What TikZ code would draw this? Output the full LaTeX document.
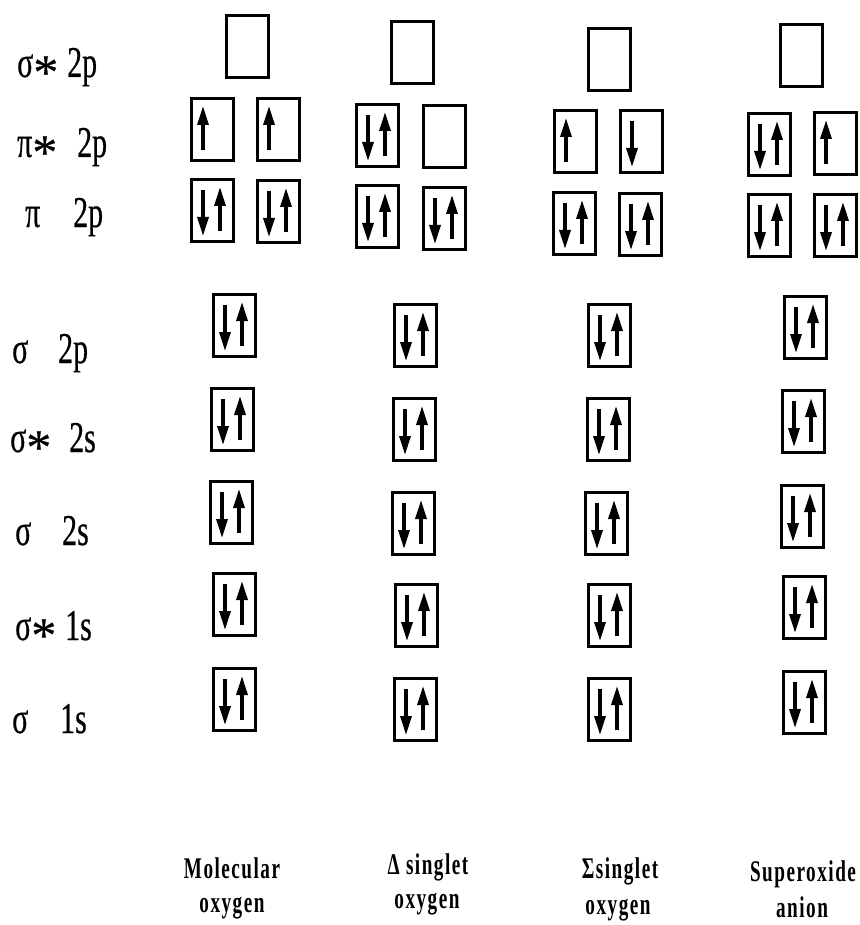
\documentclass[tikz,border=0pt]{standalone}
\usepackage{fontspec}
\setmainfont{Liberation Serif}
\newfontfamily\orbfont[FakeStretch=0.68,FakeBold=0.5]{Liberation Serif}
\newfontfamily\astfont[FakeBold=0.4]{Liberation Serif}
\newfontfamily\capfont[FakeStretch=0.64,LetterSpace=5]{Liberation Serif}
\usetikzlibrary{arrows.meta,calc}
\newcommand\st{\raisebox{-12pt}{\astfont\fontsize{50}{50}\selectfont *}}
\newcommand\ob[3]{\node[orb] (#1) at ({#2+22.5},{#3+32.5}) {};}
\newcommand\pairsp[1]{%
  \draw[spin] ($(#1.center)+(-9.5,-20.5)$) -- ($(#1.center)+(-9.5,25.5)$);
  \draw[spin] ($(#1.center)+(7.5,20.5)$) -- ($(#1.center)+(7.5,-23.5)$);}
\newcommand\oneup[1]{\draw[spin] ($(#1.center)+(-9.5,20.5)$) -- ($(#1.center)+(-9.5,-23.5)$);}
\newcommand\onedn[1]{\draw[spin] ($(#1.center)+(-9.5,-20.5)$) -- ($(#1.center)+(-9.5,25.5)$);}
\begin{document}
\begin{tikzpicture}[x=1pt,y=-1pt,
  orb/.style={draw, line width=3.2pt, minimum width=41.8pt, minimum height=61.8pt, inner sep=0pt},
  spin/.style={line width=3.4pt, -{Triangle[length=19pt,width=11pt]}},
  lab/.style={font=\orbfont\fontsize{44}{50}\selectfont, inner sep=0pt, anchor=base west},
  captext/.style={font=\capfont\bfseries\fontsize{30}{34}\selectfont, inner sep=0pt, anchor=base}]
\useasboundingbox (0,0) rectangle (859,925);

% orbital labels
\node[lab] (Lsp) at (17,77)  {\makebox[50pt][l]{σ\st}2p};
\node[lab] (Lpsp) at (17,157) {\makebox[60pt][l]{π\st}2p};
\node[lab] (Lpp) at (25,227) {\makebox[48pt][l]{π}2p};
\node[lab] (Lsp2) at (12,363) {\makebox[46pt][l]{σ}2p};
\node[lab] (Lss2) at (10,452) {\makebox[59pt][l]{σ\st}2s};
\node[lab] (Ls2) at (15,545) {\makebox[47pt][l]{σ}2s};
\node[lab] (Lss1) at (15,640) {\makebox[50pt][l]{σ\st}1s};
\node[lab] (Ls1) at (12,733) {\makebox[48pt][l]{σ}1s};

% column 1: molecular oxygen
\ob{a0}{225}{14}
\ob{a1}{190}{97}  \ob{a2}{256}{97}
\ob{a3}{190}{178} \ob{a4}{256}{179}
\oneup{a1} \oneup{a2}
\pairsp{a3} \pairsp{a4}
\ob{a5}{212}{293} \ob{a6}{210}{387} \ob{a7}{209}{480} \ob{a8}{212}{572} \ob{a9}{212}{667}
\pairsp{a5} \pairsp{a6} \pairsp{a7} \pairsp{a8} \pairsp{a9}

% column 2: Delta singlet
\ob{b0}{390}{20}
\ob{b1}{355}{103} \ob{b2}{422}{104}
\ob{b3}{355}{184} \ob{b4}{422}{186}
\pairsp{b1}
\pairsp{b3} \pairsp{b4}
\ob{b5}{393}{303} \ob{b6}{392}{397} \ob{b7}{391}{491} \ob{b8}{394}{583} \ob{b9}{393}{677}
\pairsp{b5} \pairsp{b6} \pairsp{b7} \pairsp{b8} \pairsp{b9}

% column 3: Sigma singlet
\ob{c0}{587}{27}
\ob{c1}{553}{109} \ob{c2}{619}{109}
\ob{c3}{552}{191} \ob{c4}{618}{192}
\oneup{c1} \onedn{c2}
\pairsp{c3} \pairsp{c4}
\ob{c5}{587}{303} \ob{c6}{586}{397} \ob{c7}{584}{491} \ob{c8}{587}{583} \ob{c9}{587}{677}
\pairsp{c5} \pairsp{c6} \pairsp{c7} \pairsp{c8} \pairsp{c9}

% column 4: superoxide anion
\ob{d0}{779}{23}
\ob{d1}{747}{112} \ob{d2}{813}{111}
\ob{d3}{747}{193} \ob{d4}{813}{193}
\pairsp{d1} \oneup{d2}
\pairsp{d3} \pairsp{d4}
\ob{d5}{783}{295} \ob{d6}{781}{389} \ob{d7}{780}{484} \ob{d8}{782}{575} \ob{d9}{782}{670}
\pairsp{d5} \pairsp{d6} \pairsp{d7} \pairsp{d8} \pairsp{d9}

% captions
\node[captext] (t1a) at (232,878) {Molecular};
\node[captext] (t1b) at (232,912) {oxygen};
\node[captext] (t2a) at (428,874) {Δ singlet};
\node[captext] (t2b) at (427,908) {oxygen};
\node[captext] (t3a) at (620,878) {Σsinglet};
\node[captext] (t3b) at (618,914) {oxygen};
\node[captext] (t4a) at (803,881) {Superoxide};
\node[captext] (t4b) at (802,917) {anion};
\end{tikzpicture}
\end{document}
